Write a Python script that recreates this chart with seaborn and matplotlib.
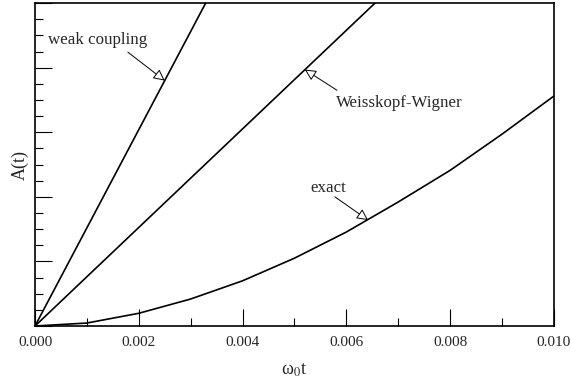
import numpy as np
import pandas as pd
import matplotlib
matplotlib.use("Agg")
import matplotlib.pyplot as plt
import seaborn as sns

# --- data ---
t_weak = [0.000, 0.001, 0.002, 0.003, 0.004]
a_weak = [0.0, 1.52, 3.04, 4.56, 6.08]

t_ww = [0.000, 0.001, 0.002, 0.003, 0.004, 0.005, 0.006, 0.007]
a_ww = [0.0, 0.763, 1.526, 2.289, 3.052, 3.815, 4.578, 5.341]

t_exact = [0.000, 0.001, 0.002, 0.003, 0.004, 0.005, 0.006, 0.007, 0.008, 0.009, 0.010]
a_exact = [0.0, 0.046, 0.197, 0.418, 0.70, 1.05, 1.455, 1.92, 2.41, 2.97, 3.56]

x_ticks = [0.000, 0.002, 0.004, 0.006, 0.008, 0.010]
x_ticklabels = ["0.000", "0.002", "0.004", "0.006", "0.008", "0.010"]

sns.set_style("ticks")
plt.rcParams['font.family'] = ['Liberation Serif', 'DejaVu Serif']
plt.rcParams['mathtext.fontset'] = 'stix'

fig = plt.figure(figsize=(5.71, 3.84), dpi=100)
ax = fig.add_axes([0.0613, 0.151, 0.9087, 0.841])

for t, a in [(t_weak, a_weak), (t_ww, a_ww), (t_exact, a_exact)]:
    sns.lineplot(x=t, y=a, ax=ax, color='black', linewidth=1.2)

ax.set_xlim(0, 0.010)
ax.set_ylim(0, 5)
ax.set_xticks(x_ticks)
ax.set_xticklabels(x_ticklabels, fontsize=11)
ax.set_xticks(np.arange(0.001, 0.010, 0.002), minor=True)
ax.set_yticks(np.arange(0, 5.01, 1))
ax.set_yticks(np.arange(0, 5.01, 0.25), minor=True)
ax.set_yticklabels([])
ax.tick_params(which='both', direction='in', color='black', width=0.8)
ax.tick_params(which='major', length=12)
ax.tick_params(which='minor', length=6)
ax.tick_params(axis='x', pad=7)
for s in ax.spines.values():
    s.set_linewidth(1.2)
    s.set_color('black')

ax.set_xlabel('ω$_0$t', fontsize=13, labelpad=9)
ax.set_ylabel('A(t)', fontsize=13, labelpad=1)

arrow = dict(arrowstyle='-|>', fc='white', ec='black', lw=0.7,
             mutation_scale=17, shrinkA=0, shrinkB=0)

# weak coupling
ax.text(0.00121, 4.43, 'weak coupling', fontsize=12.2, ha='center', va='center')
ax.annotate('', xy=(0.00250, 3.80), xytext=(0.00179, 4.24), arrowprops=arrow)

# Weisskopf-Wigner
ax.text(0.00703, 3.45, 'Weisskopf-Wigner', fontsize=12.2, ha='center', va='center')
ax.annotate('', xy=(0.00520, 3.97), xytext=(0.00582, 3.65), arrowprops=arrow)

# exact
ax.text(0.00565, 2.14, 'exact', fontsize=12.2, ha='center', va='center')
ax.annotate('', xy=(0.00642, 1.64), xytext=(0.00578, 2.00), arrowprops=arrow)

plt.savefig('out.png', dpi=100)
